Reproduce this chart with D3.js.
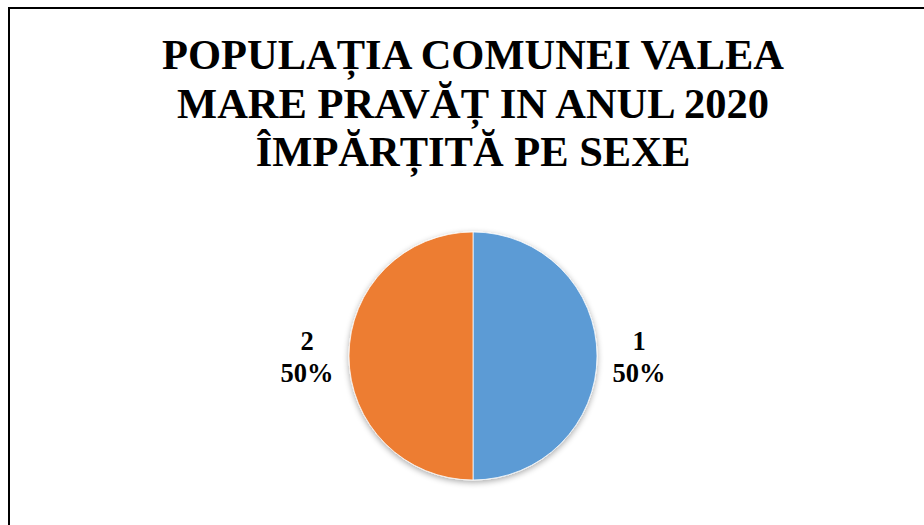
<html>
  <head>
    <meta charset="utf-8">
    <script src="https://d3js.org/d3.v7.min.js"></script>
    <style>
      body { margin: 0; background: white; }
      .title { font-family: "Liberation Serif", "Times New Roman", serif; font-weight: bold; font-size: 42.5px; }
      .label { font-family: "Liberation Serif", "Times New Roman", serif; font-weight: bold; font-size: 26.5px; }
    </style>
  </head>
  <body>
    <svg id="chart" width="924" height="525"></svg>
    <script>
      // data
      var categories = ['1', '2'];
      var values = [50, 50];
      var colors = ['#5B9BD5', '#ED7D31'];
      var titleLines = ['POPULAȚIA COMUNEI VALEA', 'MARE PRAVĂȚ IN ANUL 2020', 'ÎMPĂRȚITĂ PE SEXE'];

      var svg = d3.select('#chart');

      // frame (right and bottom edges run off the picture)
      svg.append('rect')
        .attr('x', 9).attr('y', 8)
        .attr('width', 940).attr('height', 540)
        .attr('fill', 'white')
        .attr('stroke', 'black')
        .attr('stroke-width', 2);

      var defs = svg.append('defs');
      var shadow = defs.append('filter').attr('id', 'shadow')
        .attr('x', '-20%').attr('y', '-20%').attr('width', '140%').attr('height', '140%');
      shadow.append('feGaussianBlur').attr('in', 'SourceAlpha').attr('stdDeviation', 3);
      shadow.append('feOffset').attr('dx', 0).attr('dy', 2).attr('result', 'b');
      shadow.append('feComponentTransfer').append('feFuncA').attr('type', 'linear').attr('slope', 0.35);
      var merge = shadow.append('feMerge');
      merge.append('feMergeNode');
      merge.append('feMergeNode').attr('in', 'SourceGraphic');

      svg.append('text')
        .attr('class', 'title')
        .attr('text-anchor', 'middle')
        .selectAll('tspan')
        .data(titleLines)
        .join('tspan')
        .attr('x', 473)
        .attr('y', function(d, i) { return 69 + i * 48.5; })
        .text(function(d) { return d; });

      var cx = 473, cy = 356, r = 124;
      var pie = d3.pie().sort(null).value(function(d) { return d; });
      var arc = d3.arc().innerRadius(0).outerRadius(r);
      var arcs = pie(values);

      var g = svg.append('g').attr('transform', 'translate(' + cx + ',' + cy + ')');
      g.append('g').attr('filter', 'url(#shadow)')
        .selectAll('path')
        .data(arcs)
        .join('path')
        .attr('d', arc)
        .attr('fill', function(d, i) { return colors[i]; })
        .attr('stroke', 'white')
        .attr('stroke-width', 0.75);

      // data labels outside the slices
      var labelArc = d3.arc().innerRadius(r + 42).outerRadius(r + 42);
      var lab = g.selectAll('text.label')
        .data(arcs)
        .join('text')
        .attr('class', 'label')
        .attr('text-anchor', 'middle')
        .attr('transform', function(d) {
          var c = labelArc.centroid(d);
          return 'translate(' + c[0] + ',' + c[1] + ')';
        });
      lab.append('tspan').attr('x', 0).attr('y', -6)
        .text(function(d, i) { return categories[i]; });
      lab.append('tspan').attr('x', 0).attr('y', 25.5)
        .text(function(d) { return Math.round(d.value / d3.sum(values) * 100) + '%'; });
    </script>
  </body>
</html>
